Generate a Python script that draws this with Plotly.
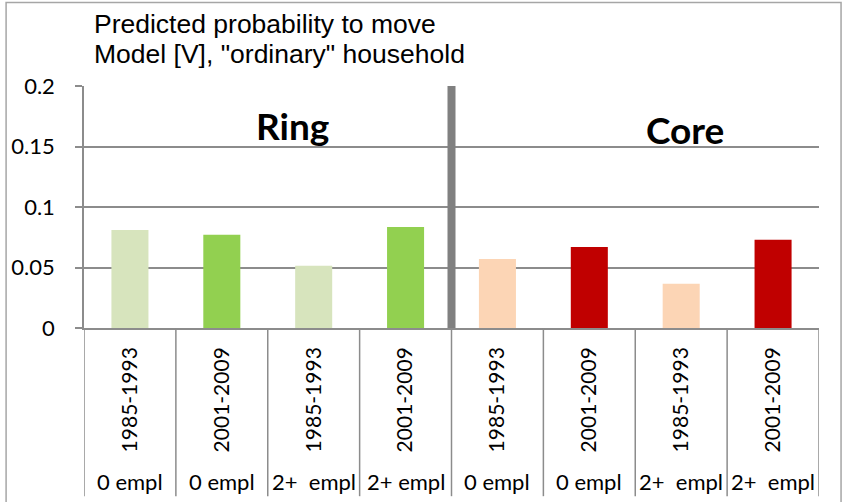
import plotly.graph_objects as go

# ---- data ----
periods = ["1985-1993", "2001-2009", "1985-1993", "2001-2009",
           "1985-1993", "2001-2009", "1985-1993", "2001-2009"]
groups = ["0 empl", "0 empl", "2+  empl", "2+ empl",
          "0 empl", "0 empl", "2+  empl", "2+  empl"]
regions = ["Ring", "Core"]
probability = [0.081, 0.077, 0.0515, 0.0835, 0.057, 0.067, 0.0365, 0.073]
bar_colors = ["#d7e4bd", "#92d050", "#d7e4bd", "#92d050",
              "#fcd5b5", "#c00000", "#fcd5b5", "#c00000"]
y_ticks = [0, 0.05, 0.1, 0.15, 0.2]
y_ticktext = ["0", "0.05", "0.1", "0.15", "0.2"]
title_lines = ["Predicted probability to move", 'Model [V], "ordinary" household']

GRAY = "#8c8c8c"
pos = list(range(len(periods)))

fig = go.Figure()
fig.add_trace(go.Bar(x=pos, y=probability, marker=dict(color=bar_colors, line=dict(width=0)),
                     showlegend=False, hoverinfo="skip"))

fig.update_layout(
    width=845, height=502,
    margin=dict(l=84, r=26, t=86, b=174),
    paper_bgcolor="white", plot_bgcolor="white",
    bargap=0.597,
    font=dict(family="Lato", color="black"),
)
fig.update_xaxes(
    range=[-0.5, len(periods) - 0.5],
    tickmode="array", tickvals=pos, ticktext=periods,
    tickangle=-90, ticks="", tickfont=dict(family="Lato", size=21, color="black"),
    ticklabelstandoff=9,
    showgrid=False, zeroline=False,
    showline=True, linecolor=GRAY, linewidth=1.5,
)
fig.update_yaxes(
    range=[0, 0.2], tickmode="array", tickvals=y_ticks, ticktext=y_ticktext,
    ticks="outside", ticklen=7, tickcolor=GRAY, tickwidth=1.5,
    tickfont=dict(family="Lato", size=22, color="black"),
    ticklabelstandoff=16,
    showgrid=True, gridcolor=GRAY, gridwidth=1.5,
    zeroline=False, showline=True, linecolor=GRAY, linewidth=1.5,
)

shapes = []
# category separators below the axis
for i in range(len(periods) + 1):
    shapes.append(dict(type="line", xref="x", yref="paper", x0=i - 0.5, x1=i - 0.5,
                       y0=0, y1=-0.695, line=dict(color=GRAY, width=1.5)))
# thick divider between Ring and Core
shapes.append(dict(type="line", xref="x", yref="y", x0=3.5, x1=3.5, y0=-0.0015, y1=0.2022,
                   line=dict(color="#808080", width=8)))
# outer chart frame
shapes.append(dict(type="rect", xref="paper", yref="paper", x0=-0.106, x1=1.03,
                   y0=-0.9, y1=1.345, line=dict(color="#a6a6a6", width=1.5),
                   fillcolor="rgba(0,0,0,0)", layer="below"))
fig.update_layout(shapes=shapes)

ann = []
for i, g in enumerate(groups):
    ann.append(dict(x=i, y=-0.634, xref="x", yref="paper", text=g.replace(" ", "\u00a0"),
                    showarrow=False, xanchor="center", yanchor="middle",
                    font=dict(family="Lato", size=22, color="black")))
ann.append(dict(x=0.283, y=0.835, xref="paper", yref="paper", text=regions[0], showarrow=False,
                xanchor="center", yanchor="middle",
                font=dict(family="Lato", size=37, color="black", weight="bold")))
ann.append(dict(x=0.818, y=0.82, xref="paper", yref="paper", text=regions[1], showarrow=False,
                xanchor="center", yanchor="middle",
                font=dict(family="Lato", size=37, color="black", weight="bold")))
for k, (line, ypos) in enumerate(zip(title_lines, [1.3285, 1.2007])):
    ann.append(dict(x=0.011, y=ypos, xref="paper", yref="paper", text=line,
                    showarrow=False, xanchor="left", yanchor="top", align="left",
                    font=dict(family="Liberation Sans", size=26.5, color="black")))
fig.update_layout(annotations=ann)

fig.write_html("out.html", config={"displayModeBar": False},
               post_script="document.body.style.margin='0';document.body.style.padding='0';")
